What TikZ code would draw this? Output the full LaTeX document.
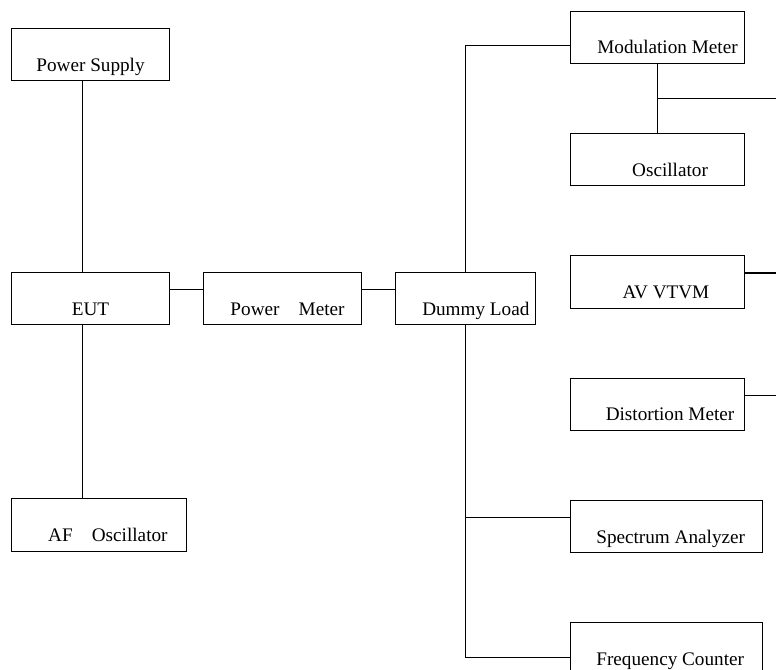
\documentclass[tikz,border=0pt]{standalone}
\usepackage{fontspec}
\setmainfont{Liberation Serif}
\usetikzlibrary{positioning}
\tikzset{
    %Define style for boxes
    unit/.style={
           rectangle,
           draw=black, line width=0.8pt,
           minimum width=118pt,
           minimum height=39.25pt,
           inner sep=0pt,
           text height=27.75pt,
           text depth=3pt,
           font=\fontsize{14.4}{17}\selectfont,
           text centered},
    % push the label a bit to the right
    push/.style={execute at begin node={\hspace*{#1}}},
    % Define wire style
    wire/.style={
           -,
           line width=0.8pt}
}

\begin{document}
\begin{tikzpicture}[node distance=25.2pt]
\useasboundingbox (0,0) rectangle (582pt,-502.5pt);
\coordinate (rim) at (582pt,0);
% left chain
\node[unit, anchor=north west](EUT) at (8.5pt,-204pt){EUT};
\node[unit, above=143pt of EUT](PS){Power Supply};
\node[unit, right=of EUT, push=7.5pt](PM){Power\quad Meter};
\node[unit, right=of PM, minimum width=105pt, push=15pt](DL){Dummy Load};
\node[unit, below right=129.7pt and 0pt of EUT.south west, minimum width=131.25pt, push=12.75pt](AF){AF\quad Oscillator};
% meters
\node[unit, anchor=north west, minimum width=131pt, push=15pt](MM) at (427.25pt,-8pt){Modulation Meter};
\node[unit, below=51.7pt of MM, minimum width=131pt, push=18.75pt](OSC){Oscillator};
\node[unit, below=51.7pt of OSC, minimum width=131pt, push=12.75pt](AV){AV VTVM};
\node[unit, below=51.7pt of AV, minimum width=131pt, push=18.75pt](DM){Distortion Meter};
\node[unit, below right=51.7pt and 0pt of DM.south west, minimum width=144pt, push=6.75pt](SA){Spectrum Analyzer};
\node[unit, below right=51.7pt and 0pt of SA.south west, minimum width=144pt, push=6pt](FC){Frequency Counter};
\draw[wire] ([xshift=-6.25pt]PS.south) -- ([xshift=-6.25pt]EUT.north);
\draw[wire] ([xshift=-6.25pt]EUT.south) -- ([xshift=-6.25pt]EUT.south |- AF.north);
\draw[wire] ([yshift=6.7pt]EUT.east) -- ([yshift=6.7pt]PM.west);
\draw[wire] ([yshift=6.7pt]PM.east) -- ([yshift=6.7pt]DL.west);
\draw[wire] (DL.north) |- ([yshift=-6.1pt]MM.west);
\draw[wire] (MM.south) -- (OSC.north) coordinate[midway](tap);
\draw[wire] (tap) -- (tap -| rim);
\draw[wire] ([yshift=6.75pt]AV.east) -- ([yshift=6.75pt]AV.east -| rim);
\draw[wire] ([yshift=6.9pt]DM.east) -- ([yshift=6.9pt]DM.east -| rim);
\draw[wire] (DL.south) |- ([yshift=-6.4pt]FC.west);
\draw[wire] ([yshift=6.6pt]SA.west) -- ([yshift=6.6pt]SA.west -| DL.south);
\end{tikzpicture}
\end{document}
